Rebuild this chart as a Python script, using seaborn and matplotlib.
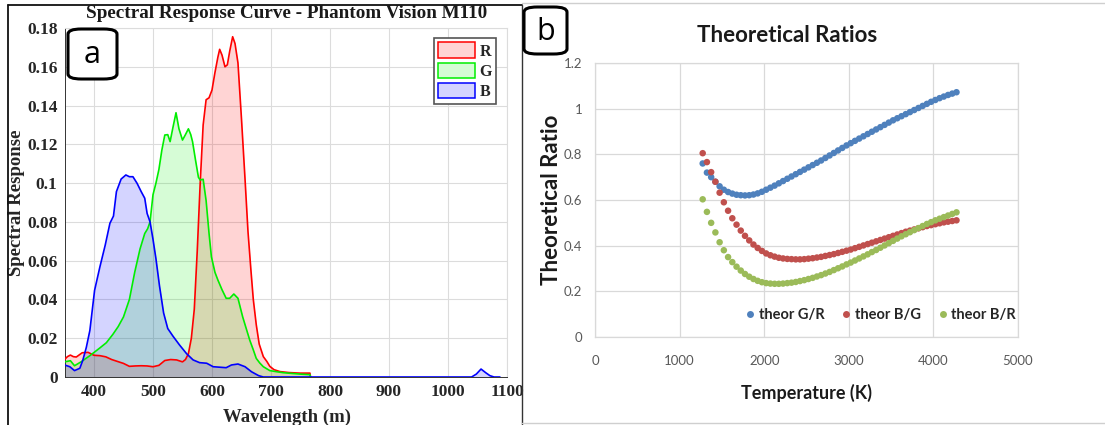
import matplotlib
matplotlib.use("Agg")
import matplotlib.pyplot as plt
from matplotlib.patches import Patch, FancyBboxPatch
from matplotlib.lines import Line2D
import numpy as np
import pandas as pd
import seaborn as sns

# ---------------- spectral response (panel a) ----------------
wl_r = [350, 355, 360, 365, 370, 380, 390, 400, 410, 420, 430, 440, 450, 460, 470,
        480, 490, 500, 510, 520, 530, 540, 550, 555, 560, 565, 570, 575, 580, 585,
        590, 595, 600, 605, 610, 613, 617, 622, 626, 630, 635, 639, 644, 650, 656,
        661, 666, 670, 675, 680, 687, 693, 698, 705, 715, 730, 749, 766, 767]
resp_r = [0.009, 0.0105, 0.0113, 0.0105, 0.0103, 0.0125, 0.0127, 0.0112, 0.011, 0.0104,
          0.009, 0.008, 0.007, 0.0055, 0.0057, 0.0058, 0.0057, 0.0053, 0.006, 0.0085,
          0.009, 0.0088, 0.0078, 0.009, 0.012, 0.020, 0.035, 0.065, 0.100, 0.130,
          0.143, 0.144, 0.148, 0.157, 0.165, 0.169, 0.166, 0.160, 0.161, 0.168,
          0.1755, 0.172, 0.162, 0.133, 0.102, 0.075, 0.055, 0.040, 0.027, 0.017,
          0.0105, 0.008, 0.0055, 0.0038, 0.0028, 0.0023, 0.002, 0.002, 0.0]

wl_g = [350, 360, 367, 378, 393, 410, 421, 432, 441, 450, 460, 469, 478, 486, 491,
        495, 500, 505, 510, 515, 520, 525, 529, 534, 539, 544, 550, 555, 560, 564,
        567, 572, 577, 580, 585, 590, 595, 599, 605, 610, 617, 624, 630, 637, 644,
        652, 658, 664, 670, 675, 681, 687, 698, 710, 721, 749, 766, 767]
resp_g = [0.0078, 0.0084, 0.0058, 0.0078, 0.011, 0.015, 0.0177, 0.022, 0.026, 0.031,
          0.040, 0.054, 0.066, 0.074, 0.0765, 0.080, 0.094, 0.100, 0.107, 0.117,
          0.1248, 0.125, 0.1214, 0.129, 0.1363, 0.128, 0.1222, 0.125, 0.128, 0.125,
          0.1214, 0.112, 0.103, 0.1016, 0.102, 0.091, 0.074, 0.062, 0.054, 0.050,
          0.045, 0.0406, 0.0406, 0.0428, 0.0406, 0.031, 0.025, 0.019, 0.014, 0.0096,
          0.0072, 0.0053, 0.0033, 0.0027, 0.0022, 0.0015, 0.0012, 0.0]

wl_b = [350, 359, 367, 376, 381, 387, 393, 401, 410, 419, 427, 433, 438, 446, 454,
        460, 466, 473, 480, 486, 490, 495, 500, 505, 511, 518, 525, 534, 545, 557,
        568, 579, 591, 602, 624, 633, 644, 656, 667, 679, 687, 1040, 1048, 1056,
        1064, 1071, 1078, 1088]
resp_b = [0.0062, 0.0053, 0.0033, 0.0045, 0.0086, 0.0153, 0.024, 0.0447, 0.0568, 0.068,
          0.0793, 0.083, 0.0956, 0.1021, 0.1042, 0.1033, 0.1033, 0.0999, 0.0956, 0.0922,
          0.0844, 0.080, 0.071, 0.061, 0.047, 0.033, 0.025, 0.021, 0.0165, 0.012,
          0.0088, 0.0074, 0.0071, 0.0053, 0.0048, 0.0062, 0.0067, 0.0053, 0.0027, 0.0007,
          0.0, 0.0, 0.0015, 0.0041, 0.0022, 0.0007, 0.0, 0.0]

band_names = ["R", "G", "B"]
band_colors = ["#ff0000", "#00ee00", "#0000ff"]
band_fill = [(1, 0, 0, 0.17), (0, 0.93, 0, 0.16), (0, 0, 1, 0.17)]
wl_ticks = [400, 500, 600, 700, 800, 900, 1000, 1100]
resp_ticks = [0, 0.02, 0.04, 0.06, 0.08, 0.1, 0.12, 0.14, 0.16, 0.18]

# ---------------- theoretical ratios (panel b) ----------------
temps_k = [1273, 1323, 1373, 1423, 1473, 1523, 1573, 1623, 1673, 1723, 1773, 1823,
           1873, 1923, 1973, 2023, 2073, 2123, 2173, 2223, 2273, 2323, 2373, 2423,
           2473, 2523, 2573, 2623, 2673, 2723, 2773, 2823, 2873, 2923, 2973, 3023,
           3073, 3123, 3173, 3223, 3273, 3323, 3373, 3423, 3473, 3523, 3573, 3623,
           3673, 3723, 3773, 3823, 3873, 3923, 3973, 4023, 4073, 4123, 4173, 4223, 4273]
ratio_gr = [0.760, 0.720, 0.700, 0.680, 0.660, 0.645, 0.635, 0.628, 0.623, 0.621, 0.620,
            0.621, 0.624, 0.629, 0.636, 0.645, 0.654, 0.663, 0.673, 0.683, 0.693, 0.703,
            0.713, 0.723, 0.733, 0.743, 0.753, 0.763, 0.773, 0.784, 0.795, 0.806, 0.817,
            0.828, 0.839, 0.849, 0.859, 0.869, 0.879, 0.889, 0.899, 0.909, 0.919, 0.929,
            0.939, 0.949, 0.958, 0.967, 0.976, 0.985, 0.994, 1.003, 1.012, 1.021, 1.030,
            1.038, 1.046, 1.053, 1.060, 1.066, 1.072]
ratio_bg = [0.805, 0.766, 0.722, 0.680, 0.632, 0.590, 0.553, 0.520, 0.492, 0.466, 0.443,
            0.423, 0.405, 0.390, 0.377, 0.366, 0.358, 0.352, 0.347, 0.344, 0.342, 0.341,
            0.340, 0.340, 0.341, 0.343, 0.345, 0.348, 0.351, 0.355, 0.359, 0.363, 0.368,
            0.373, 0.378, 0.383, 0.389, 0.395, 0.401, 0.407, 0.413, 0.419, 0.425, 0.431,
            0.437, 0.443, 0.449, 0.455, 0.461, 0.466, 0.471, 0.476, 0.481, 0.486, 0.490,
            0.494, 0.498, 0.502, 0.505, 0.508, 0.511]
ratio_br = [0.603, 0.548, 0.500, 0.458, 0.415, 0.380, 0.350, 0.328, 0.308, 0.291, 0.276,
            0.264, 0.254, 0.246, 0.240, 0.236, 0.234, 0.233, 0.233, 0.234, 0.236, 0.238,
            0.241, 0.245, 0.249, 0.254, 0.259, 0.265, 0.271, 0.278, 0.285, 0.293, 0.301,
            0.309, 0.318, 0.326, 0.335, 0.344, 0.353, 0.362, 0.372, 0.381, 0.391, 0.401,
            0.411, 0.421, 0.431, 0.441, 0.450, 0.459, 0.468, 0.477, 0.486, 0.495, 0.503,
            0.511, 0.518, 0.525, 0.532, 0.539, 0.546]
ratio_names = ["theor G/R", "theor B/G", "theor B/R"]
ratio_colors = ["#4f81bd", "#c0504d", "#9bbb59"]
temp_ticks = [0, 1000, 2000, 3000, 4000, 5000]
ratio_ticks = [0, 0.2, 0.4, 0.6, 0.8, 1.0, 1.2]

sns.set_style("white")
SERIF = ["Liberation Serif", "DejaVu Serif"]
SANS = ["Lato", "DejaVu Sans"]
plt.rcParams["font.family"] = SANS

W, H = 1105, 425
fig = plt.figure(figsize=(W / 100, H / 100), dpi=100)


def fx(px):
    return px / W


def fy(py):
    return 1 - py / H


# ---------- panel a ----------
A_L, A_R, A_T, A_B = 64.5, 507, 28, 377
ax1 = fig.add_axes([fx(A_L), fy(A_B), fx(A_R) - fx(A_L), fy(A_T) - fy(A_B)])
for wl, resp, fc in zip([wl_r, wl_g, wl_b], [resp_r, resp_g, resp_b], band_fill):
    ax1.fill_between(wl, resp, 0, color=fc, linewidth=0, zorder=1)
for wl, resp, col in zip([wl_r, wl_g, wl_b], [resp_r, resp_g, resp_b], band_colors):
    df = pd.DataFrame({"wavelength": wl, "response": resp})
    sns.lineplot(data=df, x="wavelength", y="response", ax=ax1, color=col,
                 linewidth=1.2, sort=False, estimator=None, zorder=3)

ax1.set_xlim(350, 1100)
ax1.set_ylim(0, 0.18)
ax1.set_xticks(wl_ticks)
ax1.set_yticks(resp_ticks)
ax1.set_yticklabels([("%g" % v) for v in resp_ticks])
ax1.grid(True, color="#dcdcdc", linewidth=0.8)
ax1.set_axisbelow(True)
ax1.tick_params(direction="in", length=3, width=0.6, colors="#333333",
                labelsize=12.5, pad=5)
for lab in ax1.get_xticklabels() + ax1.get_yticklabels():
    lab.set_family(SERIF)
    lab.set_fontweight("bold")
    lab.set_color("#262626")
for side in ["left", "bottom"]:
    ax1.spines[side].set_color("#333333")
    ax1.spines[side].set_linewidth(0.7)
for side in ["top", "right"]:
    ax1.spines[side].set_color("#dcdcdc")
    ax1.spines[side].set_linewidth(0.8)
ax1.set_xlabel("Wavelength (m)", family=SERIF, fontweight="bold", fontsize=13.5,
               color="#262626")
ax1.set_ylabel("Spectral Response", family=SERIF, fontweight="bold", fontsize=13.5,
               color="#262626")
ax1.xaxis.set_label_coords((287 - A_L) / (A_R - A_L), (A_B - 417) / (A_B - A_T))
ax1.yaxis.set_label_coords((17 - A_L) / (A_R - A_L), (A_B - 203) / (A_B - A_T))
ax1.xaxis.label.set_va("center")
ax1.yaxis.label.set_va("center")
fig.text(fx(287), fy(13), "Spectral Response Curve - Phantom Vision M110",
         family=SERIF, fontweight="bold", fontsize=13.8, color="#1a1a1a",
         ha="center", va="center")

handles = [Patch(facecolor=fc, edgecolor=col, linewidth=1.1, label=n)
           for n, col, fc in zip(band_names, band_colors, band_fill)]
leg1 = ax1.legend(handles=handles, loc="upper right", bbox_to_anchor=(0.975, 0.97),
                  borderaxespad=0, fancybox=False, framealpha=1, edgecolor="#555555",
                  handlelength=2.3, handleheight=1.1, handletextpad=0.3,
                  labelspacing=0.2, borderpad=0.25,
                  prop={"family": SERIF, "weight": "bold", "size": 11.5})
leg1.get_frame().set_linewidth(1.2)

# ---------- panel b ----------
B_L, B_R, B_T, B_B = 595, 1018, 63, 337
ax2 = fig.add_axes([fx(B_L), fy(B_B), fx(B_R) - fx(B_L), fy(B_T) - fy(B_B)])
long = pd.DataFrame({
    "Temperature": temps_k * 3,
    "Ratio": ratio_gr + ratio_bg + ratio_br,
    "Series": sum([[n] * len(temps_k) for n in ratio_names], []),
})
sns.scatterplot(data=long, x="Temperature", y="Ratio", hue="Series",
                hue_order=ratio_names, palette=ratio_colors, s=22,
                linewidth=0, ax=ax2, zorder=3)
ax2.set_xlim(0, 5000)
ax2.set_ylim(0, 1.2)
ax2.set_xticks(temp_ticks)
ax2.set_yticks(ratio_ticks)
ax2.set_yticklabels([("%g" % v) for v in ratio_ticks])
ax2.grid(True, color="#d9d9d9", linewidth=0.9)
ax2.set_axisbelow(True)
for side in ax2.spines:
    ax2.spines[side].set_color("#d9d9d9")
    ax2.spines[side].set_linewidth(0.9)
ax2.tick_params(length=0, labelsize=9.5, colors="#595959")
ax2.tick_params(axis="x", pad=13)
ax2.tick_params(axis="y", pad=9)
ax2.set_xlabel("Temperature (K)", fontweight="bold", fontsize=13, color="#1a1a1a")
ax2.set_ylabel("Theoretical Ratio", fontweight="bold", fontsize=16, color="#1a1a1a")
ax2.xaxis.set_label_coords((807 - B_L) / (B_R - B_L), (B_B - 393) / (B_B - B_T))
ax2.yaxis.set_label_coords((552 - B_L) / (B_R - B_L), (B_B - 200) / (B_B - B_T))
ax2.xaxis.label.set_va("center")
ax2.yaxis.label.set_va("center")
fig.text(fx(787), fy(36), "Theoretical Ratios", fontweight="bold", fontsize=16,
         color="#1a1a1a", ha="center", va="center")
leg_handles = [Line2D([], [], marker="o", linestyle="", markersize=5,
                      markerfacecolor=c, markeredgewidth=0, label=n)
               for n, c in zip(ratio_names, ratio_colors)]
ax2.legend(handles=leg_handles, loc="center", bbox_to_anchor=(0.672, 0.08), ncol=3,
           frameon=False, handletextpad=0.1, columnspacing=1.0, handlelength=1.0,
           prop={"size": 10.5, "weight": "bold"}, labelcolor="#262626")

# ---------- panel frames and letter tags ----------
frame = dict(color="#111111", linewidth=1.3, transform=fig.transFigure)
fig.add_artist(Line2D([fx(8), fx(8)], [fy(5), fy(425)], **frame))
fig.add_artist(Line2D([fx(8), fx(522)], [fy(5), fy(5)], **frame))
fig.add_artist(Line2D([fx(522), fx(522)], [fy(5), fy(425)], color="#333333",
                      linewidth=1.0, transform=fig.transFigure))
light = dict(color="#cfcfcf", linewidth=1.0, transform=fig.transFigure)
fig.add_artist(Line2D([fx(522), fx(1105)], [fy(3), fy(3)], **light))
fig.add_artist(Line2D([fx(522), fx(1105)], [fy(423), fy(423)], **light))

for (x0, y0, x1, y1, letter) in [(68, 29, 117, 79, "a"), (524, 7, 567, 54, "b")]:
    box = FancyBboxPatch((fx(x0), fy(y1)), fx(x1) - fx(x0), fy(y0) - fy(y1),
                         boxstyle="round,pad=0,rounding_size=0.012",
                         transform=fig.transFigure, facecolor="white",
                         edgecolor="black", linewidth=2.2, zorder=10)
    fig.add_artist(box)
    fig.text(fx((x0 + x1) / 2), fy((y0 + y1) / 2 + 1), letter, fontsize=22,
             ha="center", va="center", color="black", zorder=11,
             family=["Open Sans", "DejaVu Sans"])

fig.savefig("out.png", dpi=100)
